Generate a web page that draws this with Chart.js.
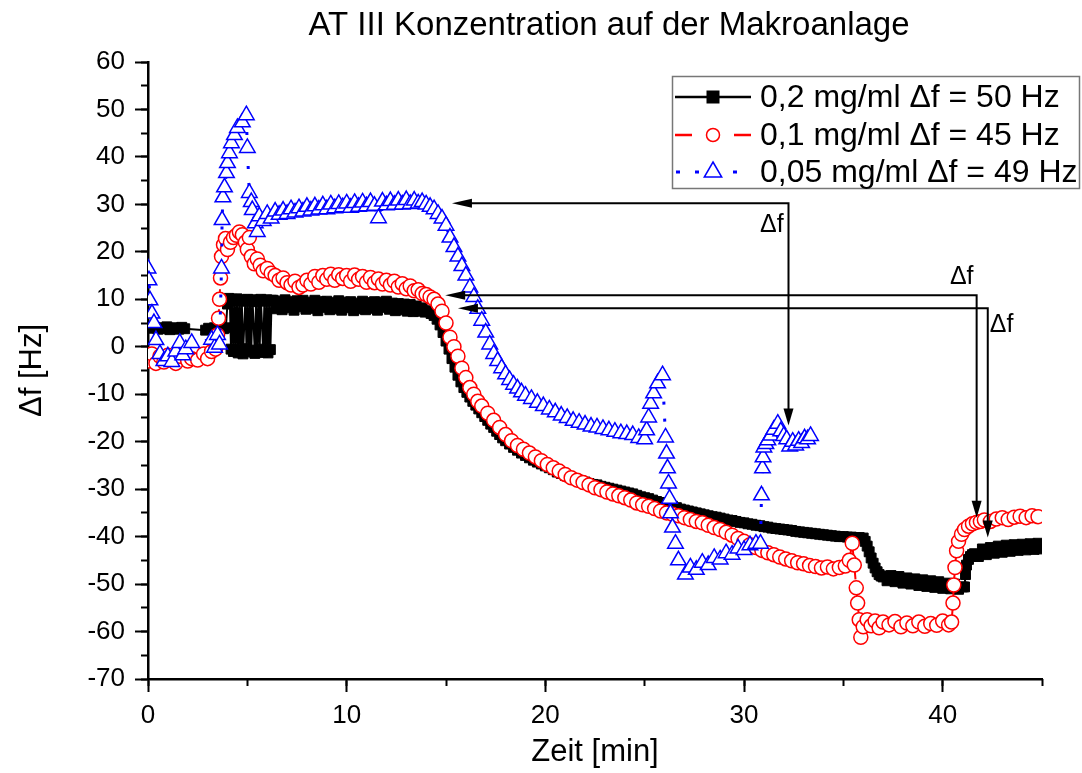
<!DOCTYPE html>
<html>
<head>
<meta charset="utf-8">
<script src="https://cdn.jsdelivr.net/npm/chart.js@4.4.1/dist/chart.umd.min.js"></script>
<style>
    html, body { margin: 0; padding: 0; background: #fff; }
    #wrap { width: 1082px; height: 773px; }
</style>
</head>
<body>
<div id="wrap"><canvas id="chart" width="1082" height="773"></canvas></div>
<script>
    // DADOS (Zeit [min], Δf [Hz])
    const blackTime = [0.2, 0.35, 0.5, 0.65, 0.8, 0.95, 1.1, 1.25, 1.4, 1.55, 1.7, 1.85, 2.9, 3.05, 3.2, 3.35, 3.5, 3.65, 3.8, 3.92,
        4.0, 4.06, 4.12, 4.18, 4.24, 4.3, 4.36, 4.42, 4.48, 4.54, 4.6, 4.66, 4.72, 4.78, 4.9, 4.96, 5.02, 5.08, 5.14, 5.2, 5.26, 5.38, 5.44, 5.5, 5.56, 5.62, 5.68, 5.8, 5.86, 5.92, 5.98, 6.04, 6.1, 6.16, 6.22,
        6.3, 6.45, 6.6, 6.75, 6.9, 7.05, 7.2, 7.35, 7.5, 7.65, 7.8, 7.95, 8.1, 8.25, 8.4, 8.55, 8.7, 8.85, 9.0, 9.15, 9.3, 9.45, 9.6, 9.75, 9.9, 10.05, 10.2, 10.35, 10.5, 10.65,
        10.8, 10.95, 11.1, 11.25, 11.4, 11.55, 11.7, 11.85, 12.0, 12.15, 12.3, 12.45, 12.6, 12.75, 12.9, 13.05, 13.2, 13.35, 13.5, 13.65, 13.8, 13.95, 14.1,
        14.25, 14.4, 14.55, 14.7, 14.85, 15.0, 15.15, 15.3, 15.45, 15.6, 15.75, 15.9, 16.05, 16.2, 16.35, 16.5, 16.65, 16.8, 16.95, 17.1, 17.25, 17.4, 17.55, 17.7, 17.85, 18.0,
        18.2, 18.4, 18.6, 18.8, 19.0, 19.2, 19.4, 19.6, 19.8, 20.0, 20.2, 20.4, 20.6, 20.8, 21.0, 21.2, 21.4, 21.6, 21.8, 22.0, 22.2, 22.4, 22.6, 22.8, 23.0, 23.2, 23.4, 23.6, 23.8,
        24.0, 24.2, 24.4, 24.6, 24.8, 25.0, 25.2, 25.4, 25.6, 25.8, 26.0, 26.2, 26.4, 26.6, 26.8, 27.0, 27.2, 27.4, 27.6, 27.8, 28.0, 28.2, 28.4, 28.6, 28.8, 29.0, 29.2, 29.4, 29.6,
        29.8, 30.0, 30.2, 30.4, 30.6, 30.8, 31.0, 31.2, 31.4, 31.6, 31.8, 32.0, 32.2, 32.4, 32.6, 32.8, 33.0, 33.2, 33.4, 33.6, 33.8, 34.0, 34.2, 34.4, 34.6, 34.8, 35.0, 35.2, 35.4,
        35.6, 35.8, 36.0, 36.1, 36.2, 36.3, 36.4, 36.5, 36.6, 36.7, 36.8, 36.9, 37.0, 37.2, 37.4, 37.6, 37.8, 38.0, 38.2, 38.4, 38.6, 38.8, 39.0, 39.2, 39.4, 39.6, 39.8, 40.0,
        40.2, 40.4, 40.6, 40.8, 41.0, 41.1, 41.15, 41.2, 41.3, 41.4, 41.5, 41.6, 41.8, 42.0, 42.2, 42.4, 42.6, 42.8, 43.0, 43.2, 43.4, 43.6, 43.8, 44.0, 44.2, 44.4, 44.6, 44.8, 45.0];
    const blackDf = [3.9, 4.1, 3.7, 4.0, 3.8, 4.2, 3.6, 4.0, 3.9, 3.7, 4.1, 3.8, 3.5, 3.9, 3.6, 4.0, 3.7, 4.1, 3.8, 4.0,
        9.0, 10.2, 9.6, -0.5, 10.0, -1.0, 9.8, -0.6, 10.1, -1.3, 9.7, -0.8, 9.9, -1.5, 9.6, -0.4, 10.0, -1.1, 9.7, -0.7, 9.9, -1.4, 9.5, -0.9, 9.8, -0.5, 10.0, -1.2, 9.6, -0.8, 9.9, -1.3, 9.7, -0.6, 9.8,
        9.8, 8.0, 9.6, 7.8, 9.9, 8.2, 9.5, 7.7, 9.7, 8.4, 9.8, 7.9, 9.4, 8.1, 9.8, 7.6, 9.5, 8.3, 9.6, 7.8, 9.3, 8.0, 9.7, 7.7, 9.4, 8.2, 9.5, 7.6, 9.2, 8.0,
        9.6, 7.8, 9.3, 8.1, 9.5, 7.7, 9.4, 8.3, 9.6, 7.9, 9.2, 7.6, 9.1, 7.8, 9.0, 7.5, 8.9, 7.4, 8.6, 7.5, 8.2, 7.3, 7.6,
        7.0, 6.6, 5.8, 4.6, 3.0, 1.2, -0.5, -2.5, -4.3, -6.0, -7.4, -8.6, -9.6, -10.6, -11.5, -12.3, -13.1, -13.9, -14.7, -15.5, -16.3, -17.0, -17.8, -18.5, -19.2, -19.8,
        -20.5, -21.2, -21.8, -22.4, -22.9, -23.4, -23.9, -24.3, -24.7, -25.1, -25.5, -25.9, -26.4, -26.7, -27.1, -27.4, -27.8, -28.0, -28.3, -28.5, -28.8, -29.0, -29.1, -29.4, -29.6, -29.8, -30.0, -30.2, -30.4,
        -30.6, -30.8, -31.0, -31.3, -31.6, -31.8, -32.0, -32.3, -32.6, -32.8, -33.1, -33.3, -33.6, -33.9, -34.2, -34.4, -34.6, -34.8, -35.0, -35.2, -35.4, -35.6, -35.8, -35.9, -36.1, -36.3, -36.5, -36.6, -36.8,
        -37.0, -37.1, -37.3, -37.4, -37.6, -37.7, -37.9, -38.0, -38.2, -38.3, -38.4, -38.5, -38.6, -38.7, -38.9, -39.0, -39.1, -39.2, -39.3, -39.4, -39.5, -39.6, -39.7, -39.8, -39.9, -40.0, -40.0, -40.1, -40.1,
        -40.2, -40.2, -40.3, -41.0, -42.0, -43.2, -44.5, -45.6, -46.6, -47.4, -48.0, -48.3, -48.5, -49.3, -48.2, -49.5, -48.4, -49.8, -48.7, -50.0, -48.9, -50.3, -49.1, -50.5, -49.3, -50.7, -49.5, -50.9,
        -49.8, -51.0, -50.0, -51.1, -50.6, -50.6, -48.0, -46.0, -44.8, -44.2, -43.8, -43.6, -44.2, -42.6, -43.8, -42.3, -43.5, -42.0, -43.3, -41.8, -43.1, -41.7, -42.9, -41.6, -42.8, -41.5, -42.7, -41.4, -42.6, -41.4, -42.5];

    const redTime = [0.0, 0.2, 0.4, 0.6, 0.8, 1.0, 1.2, 1.4, 1.6, 1.8, 2.0, 2.2, 2.5, 2.8, 3.0, 3.2, 3.4, 3.5, 3.55, 3.6, 3.65, 3.7, 3.8, 3.9, 4.0, 4.15, 4.3, 4.45, 4.6, 4.75,
        4.9, 5.0, 5.1, 5.2, 5.35, 5.5, 5.65, 5.8, 6.0, 6.2, 6.4, 6.6, 6.8, 7.0, 7.2, 7.4, 7.6, 7.8, 8.0, 8.2, 8.4, 8.6, 8.8, 9.0, 9.2, 9.4, 9.6, 9.8, 10.0, 10.2,
        10.4, 10.6, 10.8, 11.0, 11.2, 11.4, 11.6, 11.8, 12.0, 12.2, 12.4, 12.6, 12.8, 13.0, 13.2, 13.4, 13.6, 13.8, 14.0, 14.2, 14.4, 14.6, 14.8, 15.0, 15.2, 15.4, 15.6, 15.8,
        16.0, 16.2, 16.4, 16.6, 16.8, 17.1, 17.4, 17.7, 18.0, 18.3, 18.6, 18.9, 19.2, 19.5, 19.8, 20.1, 20.4, 20.7, 21.0, 21.3, 21.6, 21.9, 22.2, 22.5, 22.8, 23.1, 23.4,
        23.7, 24.0, 24.3, 24.6, 24.9, 25.2, 25.5, 25.8, 26.1, 26.4, 26.7, 27.0, 27.3, 27.6, 27.9, 28.2, 28.5, 28.8, 29.1, 29.4, 29.7, 30.0, 30.3, 30.6, 30.9, 31.2, 31.5,
        31.8, 32.1, 32.4, 32.7, 33.0, 33.3, 33.6, 33.9, 34.2, 34.5, 34.8, 35.1, 35.3, 35.45, 35.55, 35.65, 35.72, 35.8, 35.88, 36.0, 36.2, 36.4, 36.6, 36.8, 37.0, 37.3,
        37.6, 37.9, 38.2, 38.5, 38.8, 39.1, 39.4, 39.7, 40.0, 40.3, 40.45, 40.52, 40.56, 40.62, 40.7, 40.8, 40.95, 41.1, 41.3, 41.5, 41.7, 41.9, 42.1, 42.4, 42.7, 43.0,
        43.3, 43.6, 43.9, 44.2, 44.5, 44.8];
    const redDf = [-3.0, -1.5, -3.5, -2.0, -3.2, -1.8, -2.8, -3.5, -2.0, -1.5, -3.0, -2.5, -2.8, -1.5, -2.5, -1.0, -0.5, 2.5, 6.0, 10.0, 14.5, 19.0, 21.5, 22.8, 20.5, 22.0, 23.0, 23.5, 24.2, 23.6,
        22.0, 20.5, 23.0, 19.0, 17.5, 18.5, 17.2, 16.0, 16.5, 15.5, 15.0, 14.0, 14.5, 13.5, 13.0, 13.8, 12.5, 13.0, 14.0, 13.2, 14.8, 13.6, 15.0, 14.2, 15.3, 14.0, 15.2, 14.4, 15.0, 13.8,
        15.1, 14.2, 14.8, 13.6, 14.6, 13.5, 14.3, 13.2, 14.0, 13.0, 13.8, 12.6, 13.3, 12.2, 12.8, 11.8, 12.0, 11.2, 11.0, 10.5, 10.0, 9.0, 7.5, 5.0, 2.0, 0.0, -2.0, -4.5,
        -6.5, -8.6, -10.0, -11.5, -12.5, -14.0, -15.5, -17.0, -18.5, -19.8, -20.8, -21.6, -22.4, -23.2, -24.0, -24.8, -25.5, -26.2, -26.9, -27.6, -28.1, -28.6, -29.1, -29.7, -30.1, -30.6, -31.0,
        -31.4, -31.8, -32.3, -32.9, -33.3, -33.6, -34.1, -34.6, -35.0, -35.3, -35.6, -36.0, -36.4, -36.8, -37.1, -37.6, -38.1, -38.5, -39.1, -39.7, -40.4, -41.0, -41.7, -42.3, -42.9, -43.4, -43.8,
        -44.3, -44.7, -45.1, -45.5, -45.7, -46.1, -46.3, -46.6, -46.4, -46.8, -46.5, -46.2, -45.0, -41.4, -46.0, -50.8, -54.0, -57.5, -61.2, -59.0, -57.5, -58.8, -57.8, -59.2, -58.0, -58.6,
        -57.9, -59.0, -58.2, -58.8, -58.0, -58.9, -58.3, -58.7, -57.8, -58.6, -58.0, -54.0, -50.2, -46.5, -43.0, -41.0, -39.5, -38.5, -37.8, -37.3, -37.0, -36.8, -36.5, -36.8, -36.3, -36.0,
        -36.4, -35.9, -35.7, -36.0, -35.6, -35.8];

    const blueTime = [0.0, 0.05, 0.1, 0.2, 0.3, 0.4, 0.6, 0.8, 1.0, 1.2, 1.4, 1.6, 1.75, 1.9, 2.2, 3.2, 3.35, 3.5, 3.6, 3.7, 3.73, 3.77, 3.85, 3.95, 4.0, 4.1, 4.2, 4.35, 4.5, 4.75,
        4.95, 5.0, 5.1, 5.2, 5.25, 5.4, 5.5, 5.6, 5.8, 6.0, 6.2, 6.4, 6.6, 6.8, 7.0, 7.2, 7.4, 7.6, 7.8, 8.0, 8.2, 8.4, 8.6, 8.8, 9.0, 9.2, 9.4, 9.6, 9.8, 10.0,
        10.2, 10.4, 10.6, 10.8, 11.0, 11.2, 11.4, 11.6, 11.8, 12.0, 12.2, 12.4, 12.6, 12.8, 13.0, 13.2, 13.4, 13.6, 13.8, 14.0, 14.2, 14.4, 14.6, 14.8, 15.0, 15.2, 15.4, 15.6,
        15.8, 16.0, 16.2, 16.4, 16.6, 16.8, 17.0, 17.2, 17.4, 17.6, 17.8, 18.0, 18.2, 18.4, 18.6, 18.8, 19.0, 19.3, 19.6, 19.9, 20.2, 20.5, 20.8, 21.1, 21.4, 21.7, 22.0,
        22.3, 22.6, 22.9, 23.2, 23.5, 23.8, 24.1, 24.4, 24.7, 25.0, 25.1, 25.2, 25.3, 25.45, 25.65, 25.9, 26.05, 26.1, 26.15, 26.2, 26.25, 26.3, 26.4, 26.55, 26.7, 27.05,
        27.3, 27.6, 27.9, 28.2, 28.5, 28.8, 29.1, 29.4, 29.7, 30.0, 30.3, 30.6, 30.83, 30.88, 30.93, 30.96, 31.0, 31.1, 31.2, 31.35, 31.5, 31.7, 31.85, 32.0, 32.15, 32.3,
        32.45, 32.6, 32.75, 32.9, 33.05, 33.2, 33.35];
    const blueDf = [16.5, 14.0, 9.8, 7.0, 5.0, 1.4, -1.5, -3.0, -2.0, -3.2, -1.0, 0.8, -1.8, -0.5, 0.8, 1.5, -0.2, 2.5, 0.5, 16.5, 26.7, 31.5, 33.6, 36.6, 38.7, 40.8, 42.9, 44.6, 46.1, 47.3,
        48.8, 41.9, 32.4, 30.5, 28.8, 26.0, 24.2, 27.5, 26.5, 28.0, 27.0, 28.5, 27.8, 28.7, 28.0, 29.0, 28.3, 29.2, 28.5, 29.5, 28.7, 29.6, 28.9, 29.8, 29.0, 30.0, 29.2, 30.1, 29.4, 30.2,
        29.3, 30.3, 29.5, 30.4, 29.6, 30.5, 29.7, 27.1, 30.6, 29.8, 30.7, 29.9, 30.8, 30.0, 30.9, 30.1, 30.8, 30.2, 30.5, 30.0, 29.5, 29.0, 28.0, 27.0, 25.5, 23.0, 21.0, 19.0,
        17.0, 15.0, 12.5, 10.5, 8.0, 5.5, 3.0, 0.5, -1.5, -3.0, -4.5, -5.8, -7.0, -8.0, -8.8, -9.6, -10.3, -11.0, -11.8, -12.5, -13.2, -13.8, -14.5, -15.0, -15.6, -16.0, -16.4,
        -16.8, -17.0, -17.3, -17.6, -17.9, -18.2, -18.4, -18.6, -19.2, -19.5, -17.6, -14.9, -12.0, -9.8, -7.7, -6.0, -19.1, -22.5, -25.6, -28.8, -32.0, -35.1, -38.1, -41.5, -45.0, -48.0,
        -46.5, -47.0, -45.5, -46.0, -44.5, -44.8, -43.5, -43.8, -42.5, -42.8, -41.8, -41.5, -41.5, -31.3, -25.6, -23.3, -21.2, -20.5, -19.7, -18.7, -17.5, -16.2, -17.8, -18.8, -19.5, -21.0,
        -20.0, -20.8, -19.8, -20.3, -19.3, -19.5, -18.8];

    const seriesLabels = ["0,2 mg/ml \u0394f = 50 Hz", "0,1 mg/ml \u0394f = 45 Hz", "0,05 mg/ml \u0394f = 49 Hz"];

    // setas Δf: ponta à esquerda, nível horizontal, posição vertical, fim da seta
    const arrowTipTime = [15.3, 14.96, 15.6];
    const arrowLevel = [30.25, 10.84, 8.1];
    const arrowDropTime = [32.24, 41.71, 42.27];
    const arrowEnd = [-16.6, -36.0, -40.2];
    const arrowLabelTime = [31.4, 40.96, 42.97];
    const arrowLabelDf = [25.6, 14.6, 4.5];

    const FONT = "'Liberation Sans', Arial, sans-serif";

    const toPoints = (ts, vs) => ts.map((t, i) => ({ x: t, y: vs[i] }));

    const drawArrowHead = (ctx, tx, ty, dx, dy, len, half) => {
        const bx = tx - dx * len, by = ty - dy * len;
        ctx.beginPath();
        ctx.moveTo(tx, ty);
        ctx.lineTo(bx - dy * half, by + dx * half);
        ctx.lineTo(bx + dy * half, by - dx * half);
        ctx.closePath();
        ctx.fill();
    };

    const decorPlugin = {
        id: "decor",
        afterDraw(chart) {
            const { ctx, scales: { x, y } } = chart;
            ctx.save();
            ctx.fillStyle = "#000";
            ctx.strokeStyle = "#000";

            // titulo
            ctx.font = `33px ${FONT}`;
            ctx.textAlign = "center";
            ctx.textBaseline = "middle";
            ctx.fillText("AT III Konzentration auf der Makroanlage", 609, 26);

            // eixos
            ctx.font = `31px ${FONT}`;
            ctx.fillText("Zeit [min]", (chart.chartArea.left + chart.chartArea.right) / 2, 752);
            ctx.save();
            ctx.translate(32, (chart.chartArea.top + chart.chartArea.bottom) / 2);
            ctx.rotate(-Math.PI / 2);
            ctx.fillText("\u0394f [Hz]", 0, 0);
            ctx.restore();

            // setas
            ctx.lineWidth = 2;
            ctx.setLineDash([]);
            arrowTipTime.forEach((t, i) => {
                const tipX = x.getPixelForValue(t);
                const lvY = y.getPixelForValue(arrowLevel[i]);
                const dropX = x.getPixelForValue(arrowDropTime[i]);
                const endY = y.getPixelForValue(arrowEnd[i]);
                ctx.beginPath();
                ctx.moveTo(tipX + 18, lvY);
                ctx.lineTo(dropX, lvY);
                ctx.lineTo(dropX, endY - 15);
                ctx.stroke();
                drawArrowHead(ctx, tipX, lvY, -1, 0, 20, 4.5);
                drawArrowHead(ctx, dropX, endY, 0, 1, 17, 5);

                ctx.font = `25px ${FONT}`;
                ctx.textAlign = "center";
                ctx.fillText("\u0394f", x.getPixelForValue(arrowLabelTime[i]), y.getPixelForValue(arrowLabelDf[i]));
            });

            // legenda
            ctx.lineWidth = 1.5;
            ctx.strokeStyle = "#777";
            ctx.strokeRect(672.5, 76.5, 407, 112);

            const rows = [97, 135, 172];
            // preto
            ctx.strokeStyle = "#000";
            ctx.lineWidth = 2.5;
            ctx.beginPath(); ctx.moveTo(675, rows[0]); ctx.lineTo(751, rows[0]); ctx.stroke();
            ctx.fillRect(713 - 6.5, rows[0] - 6.5, 13, 13);
            // vermelho
            ctx.strokeStyle = "#ff0000";
            ctx.setLineDash([17, 42]);
            ctx.beginPath(); ctx.moveTo(675, rows[1]); ctx.lineTo(752, rows[1]); ctx.stroke();
            ctx.setLineDash([]);
            ctx.lineWidth = 1.5;
            ctx.fillStyle = "#fff";
            ctx.beginPath(); ctx.arc(713, rows[1], 6.5, 0, Math.PI * 2); ctx.fill(); ctx.stroke();
            // azul
            ctx.strokeStyle = "#0000ff";
            ctx.lineWidth = 3;
            ctx.setLineDash([4, 15]);
            ctx.beginPath(); ctx.moveTo(676, rows[2]); ctx.lineTo(742, rows[2]); ctx.stroke();
            ctx.setLineDash([]);
            ctx.lineWidth = 1.5;
            ctx.beginPath();
            ctx.moveTo(713, rows[2] - 10);
            ctx.lineTo(713 + 8.7, rows[2] + 5);
            ctx.lineTo(713 - 8.7, rows[2] + 5);
            ctx.closePath(); ctx.fill(); ctx.stroke();

            ctx.fillStyle = "#000";
            ctx.font = `32px ${FONT}`;
            ctx.textAlign = "left";
            ctx.textBaseline = "middle";
            seriesLabels.forEach((l, i) => ctx.fillText(l, 760, rows[i] + 1));

            ctx.restore();
        }
    };

    const majorGrid = { drawOnChartArea: false, drawTicks: true, tickLength: 13, tickWidth: 2, tickColor: "#000" };
    const minorGrid = { drawOnChartArea: false, drawTicks: true, tickLength: 7, tickWidth: 2, tickColor: "#000" };
    const onlyTens = (s) => { s.ticks = s.ticks.filter((t) => Math.abs(t.value % 10) < 1e-9); };

    new Chart(document.getElementById("chart").getContext("2d"), {
        type: "scatter",
        data: {
            datasets: [
                {
                    label: seriesLabels[0], data: toPoints(blackTime, blackDf), showLine: true, order: 2,
                    borderColor: "#000", borderWidth: 2,
                    pointStyle: "rect", pointRadius: 7, pointBackgroundColor: "#000", pointBorderColor: "#000", pointBorderWidth: 1
                },
                {
                    label: seriesLabels[1], data: toPoints(redTime, redDf), showLine: true, order: 1,
                    borderColor: "#ff0000", borderWidth: 2, borderDash: [12, 8],
                    pointStyle: "circle", pointRadius: 7, pointBackgroundColor: "#fff", pointBorderColor: "#ff0000", pointBorderWidth: 1.5
                },
                {
                    label: seriesLabels[2], data: toPoints(blueTime, blueDf), showLine: true, order: 0,
                    borderColor: "#0000ff", borderWidth: 3, borderDash: [3, 14],
                    pointStyle: "triangle", pointRadius: 9, pointBackgroundColor: "#fff", pointBorderColor: "#0000ff", pointBorderWidth: 1.5
                }
            ]
        },
        options: {
            responsive: false,
            animation: false,
            devicePixelRatio: 1,
            events: [],
            layout: { padding: { left: 0, top: 62, right: 40, bottom: 0 } },
            plugins: { legend: { display: false }, tooltip: { enabled: false }, title: { display: false } },
            scales: {
                x: {
                    type: "linear", min: 0, max: 45,
                    afterFit: (s) => { s.height = 94; },
                    afterBuildTicks: onlyTens,
                    ticks: { stepSize: 10, autoSkip: false, maxRotation: 0, color: "#000", font: { family: FONT, size: 26 }, padding: 8 },
                    grid: majorGrid,
                    border: { display: true, color: "#000", width: 2.5 }
                },
                y: {
                    type: "linear", min: -70, max: 60,
                    afterFit: (s) => { s.width = 148; },
                    ticks: { stepSize: 10, autoSkip: false, color: "#000", font: { family: FONT, size: 26 }, padding: 10 },
                    grid: majorGrid,
                    border: { display: true, color: "#000", width: 2.5 }
                },
                xMinor: {
                    type: "linear", min: 0, max: 45, position: { y: -70 },
                    ticks: { stepSize: 5, display: false },
                    grid: minorGrid,
                    border: { display: false }
                },
                yMinor: {
                    type: "linear", min: -70, max: 60, position: { x: 0 },
                    ticks: { stepSize: 5, display: false },
                    grid: minorGrid,
                    border: { display: false }
                }
            }
        },
        plugins: [decorPlugin]
    });
</script>
</body>
</html>
